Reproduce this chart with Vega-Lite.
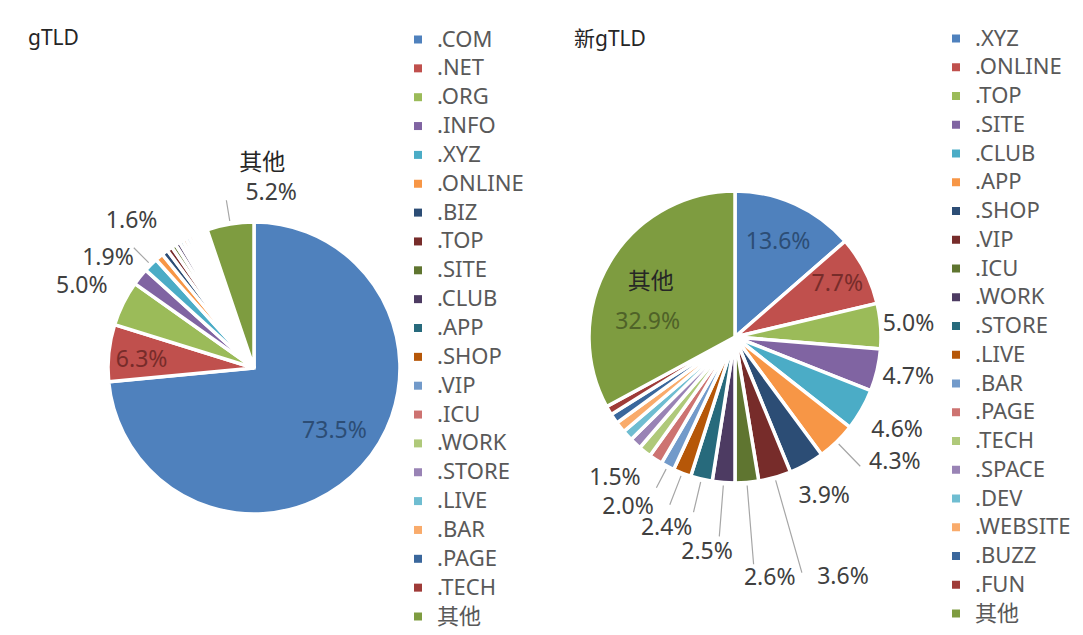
{
  "$schema": "https://vega.github.io/schema/vega-lite/v6.json",
  "background": "white",
  "padding": {"left": 8, "top": 9, "right": 0, "bottom": 0},
  "config": {"view": {"stroke": "transparent"}, "font": "Noto Sans, Noto Sans CJK SC, sans-serif"},
  "datasets": {
    "g": [
      {"n": 1, "tld": ".COM", "share": 0.735},
      {"n": 2, "tld": ".NET", "share": 0.063},
      {"n": 3, "tld": ".ORG", "share": 0.050},
      {"n": 4, "tld": ".INFO", "share": 0.019},
      {"n": 5, "tld": ".XYZ", "share": 0.016},
      {"n": 6, "tld": ".ONLINE", "share": 0.009},
      {"n": 7, "tld": ".BIZ", "share": 0.007},
      {"n": 8, "tld": ".TOP", "share": 0.006},
      {"n": 9, "tld": ".SITE", "share": 0.005},
      {"n": 10, "tld": ".CLUB", "share": 0.005},
      {"n": 11, "tld": ".APP", "share": 0.004},
      {"n": 12, "tld": ".SHOP", "share": 0.004},
      {"n": 13, "tld": ".VIP", "share": 0.004},
      {"n": 14, "tld": ".ICU", "share": 0.004},
      {"n": 15, "tld": ".WORK", "share": 0.003},
      {"n": 16, "tld": ".STORE", "share": 0.003},
      {"n": 17, "tld": ".LIVE", "share": 0.003},
      {"n": 18, "tld": ".BAR", "share": 0.003},
      {"n": 19, "tld": ".PAGE", "share": 0.003},
      {"n": 20, "tld": ".TECH", "share": 0.002},
      {"n": 21, "tld": "其他", "share": 0.052}
    ],
    "ng": [
      {"n": 1, "tld": ".XYZ", "share": 0.136},
      {"n": 2, "tld": ".ONLINE", "share": 0.077},
      {"n": 3, "tld": ".TOP", "share": 0.050},
      {"n": 4, "tld": ".SITE", "share": 0.047},
      {"n": 5, "tld": ".CLUB", "share": 0.046},
      {"n": 6, "tld": ".APP", "share": 0.043},
      {"n": 7, "tld": ".SHOP", "share": 0.039},
      {"n": 8, "tld": ".VIP", "share": 0.036},
      {"n": 9, "tld": ".ICU", "share": 0.026},
      {"n": 10, "tld": ".WORK", "share": 0.025},
      {"n": 11, "tld": ".STORE", "share": 0.024},
      {"n": 12, "tld": ".LIVE", "share": 0.020},
      {"n": 13, "tld": ".BAR", "share": 0.015},
      {"n": 14, "tld": ".PAGE", "share": 0.015},
      {"n": 15, "tld": ".TECH", "share": 0.014},
      {"n": 16, "tld": ".SPACE", "share": 0.013},
      {"n": 17, "tld": ".DEV", "share": 0.012},
      {"n": 18, "tld": ".WEBSITE", "share": 0.012},
      {"n": 19, "tld": ".BUZZ", "share": 0.011},
      {"n": 20, "tld": ".FUN", "share": 0.010},
      {"n": 21, "tld": "其他", "share": 0.329}
    ]
  },
  "spacing": 53,
  "bounds": "flush",
  "resolve": {"scale": {"color": "independent", "theta": "independent"}, "legend": {"color": "independent"}},
  "hconcat": [
    {
      "width": 492,
      "height": 718,
      "data": {"name": "g"},
      "title": {"text": "gTLD", "anchor": "start", "frame": "group", "orient": "top", "offset": 0, "baseline": "alphabetic", "dx": 20, "dy": 57, "fontSize": 21, "fontWeight": "normal", "color": "#262626"},
      "encoding": {
        "theta": {"field": "share", "type": "quantitative", "stack": true},
        "order": {"field": "n", "type": "quantitative"}
      },
      "layer": [
        {
          "mark": {"type": "arc", "radius": 146, "stroke": "white", "strokeWidth": 3.5},
          "encoding": {
            "color": {
              "field": "tld", "type": "nominal",
              "scale": {
                "domain": [".COM", ".NET", ".ORG", ".INFO", ".XYZ", ".ONLINE", ".BIZ", ".TOP", ".SITE", ".CLUB", ".APP", ".SHOP", ".VIP", ".ICU", ".WORK", ".STORE", ".LIVE", ".BAR", ".PAGE", ".TECH", "其他"],
                "range": ["#4F81BD", "#C0504D", "#9BBB59", "#8064A2", "#4BACC6", "#F79646", "#2C4D75", "#772C2A", "#5F7530", "#4D3B62", "#276A7C", "#B65708", "#729ACA", "#CD7371", "#AFC97A", "#9983B5", "#6FBDD1", "#F9AB6B", "#3A679C", "#9F3B38", "#7E9C40"]
              },
              "legend": {
                "orient": "none", "legendX": 399, "legendY": 19.5, "title": null,
                "symbolType": "square", "symbolSize": 64, "symbolStrokeWidth": 0,
                "labelFontSize": 22, "labelColor": "#595959", "labelOffset": 8,
                "rowPadding": 6.85, "padding": 0,
                "encode": {"symbols": {"update": {"stroke": {"value": "transparent"}, "strokeWidth": {"value": 0}}}}
              }
            }
          }
        },
        {
          "mark": {"type": "arc", "radius": 170, "radius2": 149, "padAngle": 1.5, "filled": false, "stroke": "#a6a6a6", "strokeWidth": 1.2},
          "encoding": {"strokeOpacity": {"condition": {"test": "indexof(['.XYZ','其他'], datum.tld) >= 0", "value": 1}, "value": 0}}
        },
        {
          "mark": {"type": "text", "radius": 102, "dx": 5, "dy": -6, "fontSize": 23, "color": "#2C4D75"},
          "encoding": {"text": {"condition": {"test": "datum.tld === '.COM'", "field": "share", "type": "quantitative", "format": ".1%"}, "value": ""}}
        },
        {
          "mark": {"type": "text", "radius": 113, "dy": 4, "fontSize": 23, "color": "#772C2A"},
          "encoding": {"text": {"condition": {"test": "datum.tld === '.NET'", "field": "share", "type": "quantitative", "format": ".1%"}, "value": ""}}
        },
        {
          "mark": {"type": "text", "radius": 192, "dy": 3, "fontSize": 23, "color": "#404040"},
          "encoding": {"text": {"condition": {"test": "datum.tld === '.ORG'", "field": "share", "type": "quantitative", "format": ".1%"}, "value": ""}}
        },
        {
          "mark": {"type": "text", "radius": 182, "dx": -4, "dy": 4, "fontSize": 23, "color": "#404040"},
          "encoding": {"text": {"condition": {"test": "datum.tld === '.INFO'", "field": "share", "type": "quantitative", "format": ".1%"}, "value": ""}}
        },
        {
          "mark": {"type": "text", "radius": 190, "dx": 12, "dy": -13, "fontSize": 23, "color": "#404040"},
          "encoding": {"text": {"condition": {"test": "datum.tld === '.XYZ'", "field": "share", "type": "quantitative", "format": ".1%"}, "value": ""}}
        },
        {
          "mark": {"type": "text", "radius": 171, "dx": 45, "dy": -6, "fontSize": 23, "color": "#404040"},
          "encoding": {"text": {"condition": {"test": "datum.tld === '其他'", "field": "share", "type": "quantitative", "format": ".1%"}, "value": ""}}
        },
        {
          "mark": {"type": "text", "radius": 171, "dx": 36, "dy": -36, "fontSize": 23, "color": "#262626"},
          "encoding": {"text": {"condition": {"test": "datum.tld === '其他'", "field": "tld", "type": "nominal"}, "value": ""}}
        }
      ]
    },
    {
      "width": 364,
      "height": 656,
      "data": {"name": "ng"},
      "title": {"text": "新gTLD", "anchor": "start", "frame": "group", "orient": "top", "offset": 0, "baseline": "alphabetic", "dx": 21, "dy": 58, "fontSize": 21, "fontWeight": "normal", "color": "#262626"},
      "encoding": {
        "theta": {"field": "share", "type": "quantitative", "stack": true},
        "order": {"field": "n", "type": "quantitative"}
      },
      "layer": [
        {
          "mark": {"type": "arc", "radius": 146, "stroke": "white", "strokeWidth": 3.5},
          "encoding": {
            "color": {
              "field": "tld", "type": "nominal",
              "scale": {
                "domain": [".XYZ", ".ONLINE", ".TOP", ".SITE", ".CLUB", ".APP", ".SHOP", ".VIP", ".ICU", ".WORK", ".STORE", ".LIVE", ".BAR", ".PAGE", ".TECH", ".SPACE", ".DEV", ".WEBSITE", ".BUZZ", ".FUN", "其他"],
                "range": ["#4F81BD", "#C0504D", "#9BBB59", "#8064A2", "#4BACC6", "#F79646", "#2C4D75", "#772C2A", "#5F7530", "#4D3B62", "#276A7C", "#B65708", "#729ACA", "#CD7371", "#AFC97A", "#9983B5", "#6FBDD1", "#F9AB6B", "#3A679C", "#9F3B38", "#7E9C40"]
              },
              "legend": {
                "orient": "none", "legendX": 392, "legendY": 18.5, "title": null,
                "symbolType": "square", "symbolSize": 64, "symbolStrokeWidth": 0,
                "labelFontSize": 22, "labelColor": "#595959", "labelOffset": 8,
                "rowPadding": 6.75, "padding": 0,
                "encode": {"symbols": {"update": {"stroke": {"value": "transparent"}, "strokeWidth": {"value": 0}}}}
              }
            }
          }
        },
        {
          "mark": {"type": "arc", "radius": 180, "radius2": 149, "padAngle": 1.5, "filled": false, "stroke": "#a6a6a6", "strokeWidth": 1.2},
          "encoding": {"strokeOpacity": {"condition": {"test": "indexof(['.APP','.STORE','.LIVE'], datum.tld) >= 0", "value": 1}, "value": 0}}
        },
        {
          "mark": {"type": "arc", "radius": 170, "radius2": 149, "padAngle": 1.5, "filled": false, "stroke": "#a6a6a6", "strokeWidth": 1.2},
          "encoding": {"strokeOpacity": {"condition": {"test": "datum.tld === '.BAR'", "value": 1}, "value": 0}}
        },
        {
          "mark": {"type": "arc", "radius": 200, "radius2": 149, "padAngle": 1.5, "filled": false, "stroke": "#a6a6a6", "strokeWidth": 1.2},
          "encoding": {"strokeOpacity": {"condition": {"test": "datum.tld === '.WORK'", "value": 1}, "value": 0}}
        },
        {
          "mark": {"type": "arc", "radius": 228, "radius2": 149, "padAngle": 1.5, "filled": false, "stroke": "#a6a6a6", "strokeWidth": 1.2},
          "encoding": {"strokeOpacity": {"condition": {"test": "datum.tld === '.ICU'", "value": 1}, "value": 0}}
        },
        {
          "mark": {"type": "arc", "radius": 245, "radius2": 149, "padAngle": 1.5, "filled": false, "stroke": "#a6a6a6", "strokeWidth": 1.2},
          "encoding": {"strokeOpacity": {"condition": {"test": "datum.tld === '.VIP'", "value": 1}, "value": 0}}
        },
        {
          "mark": {"type": "text", "radius": 104, "fontSize": 23, "color": "#2C4D75"},
          "encoding": {"text": {"condition": {"test": "datum.tld === '.XYZ'", "field": "share", "type": "quantitative", "format": ".1%"}, "value": ""}}
        },
        {
          "mark": {"type": "text", "radius": 115, "fontSize": 23, "color": "#772C2A"},
          "encoding": {"text": {"condition": {"test": "datum.tld === '.ONLINE'", "field": "share", "type": "quantitative", "format": ".1%"}, "value": ""}}
        },
        {
          "mark": {"type": "text", "radius": 83, "dx": -16, "dy": 27, "fontSize": 23, "color": "#4F6228"},
          "encoding": {"text": {"condition": {"test": "datum.tld === '其他'", "field": "share", "type": "quantitative", "format": ".1%"}, "value": ""}}
        },
        {
          "mark": {"type": "text", "radius": 83, "dx": -13, "dy": -13, "fontSize": 23, "color": "#262626"},
          "encoding": {"text": {"condition": {"test": "datum.tld === '其他'", "field": "tld", "type": "nominal"}, "value": ""}}
        },
        {
          "mark": {"type": "text", "radius": 174, "fontSize": 23, "color": "#404040"},
          "encoding": {"text": {"condition": {"test": "datum.tld === '.TOP'", "field": "share", "type": "quantitative", "format": ".1%"}, "value": ""}}
        },
        {
          "mark": {"type": "text", "radius": 178, "fontSize": 23, "color": "#404040"},
          "encoding": {"text": {"condition": {"test": "datum.tld === '.SITE'", "field": "share", "type": "quantitative", "format": ".1%"}, "value": ""}}
        },
        {
          "mark": {"type": "text", "radius": 187, "fontSize": 23, "color": "#404040"},
          "encoding": {"text": {"condition": {"test": "datum.tld === '.CLUB'", "field": "share", "type": "quantitative", "format": ".1%"}, "value": ""}}
        },
        {
          "mark": {"type": "text", "radius": 201, "dx": 20, "dy": -19, "fontSize": 23, "color": "#404040"},
          "encoding": {"text": {"condition": {"test": "datum.tld === '.APP'", "field": "share", "type": "quantitative", "format": ".1%"}, "value": ""}}
        },
        {
          "mark": {"type": "text", "radius": 182, "fontSize": 23, "color": "#404040"},
          "encoding": {"text": {"condition": {"test": "datum.tld === '.SHOP'", "field": "share", "type": "quantitative", "format": ".1%"}, "value": ""}}
        },
        {
          "mark": {"type": "text", "radius": 260, "dx": 37, "dy": -10, "fontSize": 23, "color": "#404040"},
          "encoding": {"text": {"condition": {"test": "datum.tld === '.VIP'", "field": "share", "type": "quantitative", "format": ".1%"}, "value": ""}}
        },
        {
          "mark": {"type": "text", "radius": 242, "dx": 15, "fontSize": 23, "color": "#404040"},
          "encoding": {"text": {"condition": {"test": "datum.tld === '.ICU'", "field": "share", "type": "quantitative", "format": ".1%"}, "value": ""}}
        },
        {
          "mark": {"type": "text", "radius": 216, "dx": -11, "fontSize": 23, "color": "#404040"},
          "encoding": {"text": {"condition": {"test": "datum.tld === '.WORK'", "field": "share", "type": "quantitative", "format": ".1%"}, "value": ""}}
        },
        {
          "mark": {"type": "text", "radius": 201, "dx": -22, "dy": -5, "fontSize": 23, "color": "#404040"},
          "encoding": {"text": {"condition": {"test": "datum.tld === '.STORE'", "field": "share", "type": "quantitative", "format": ".1%"}, "value": ""}}
        },
        {
          "mark": {"type": "text", "radius": 193, "dx": -37, "dy": -10, "fontSize": 23, "color": "#404040"},
          "encoding": {"text": {"condition": {"test": "datum.tld === '.LIVE'", "field": "share", "type": "quantitative", "format": ".1%"}, "value": ""}}
        },
        {
          "mark": {"type": "text", "radius": 184, "dx": -35, "dy": -22, "fontSize": 23, "color": "#404040"},
          "encoding": {"text": {"condition": {"test": "datum.tld === '.BAR'", "field": "share", "type": "quantitative", "format": ".1%"}, "value": ""}}
        }
      ]
    }
  ]
}
